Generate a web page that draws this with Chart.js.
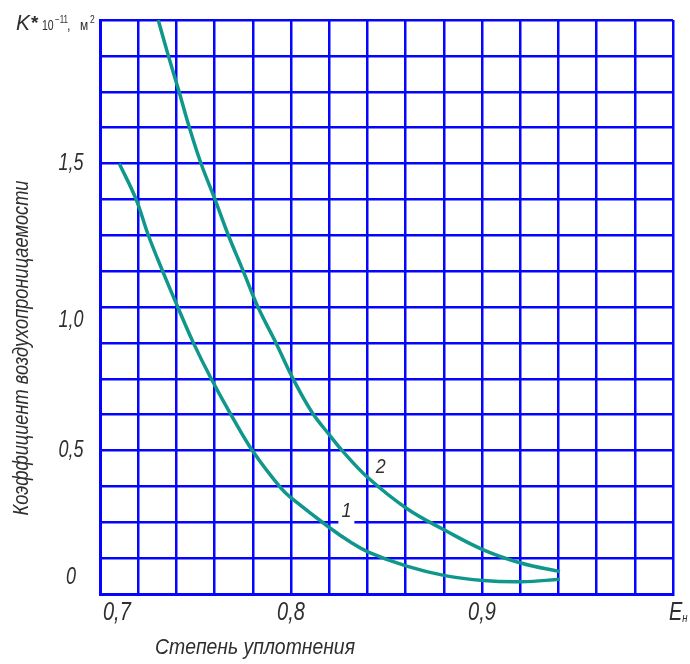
<!DOCTYPE html>
<html>
<head>
<meta charset="utf-8">
<script src="https://cdn.jsdelivr.net/npm/chart.js@4/dist/chart.umd.min.js"></script>
<style>
  html, body { margin: 0; padding: 0; background: #ffffff; }
  canvas { display: block; }
</style>
</head>
<body>
<canvas id="c" width="690" height="664"></canvas>
<script>
// ---- data ----
const curve1X = [0.7101, 0.7189, 0.7253, 0.7328, 0.7407, 0.7489, 0.7583, 0.7690, 0.7804, 0.7951, 0.8004, 0.8204, 0.8309, 0.8405, 0.8606, 0.8806, 0.9007, 0.9208, 0.9408];
const curve1Y = [1.50, 1.375, 1.25, 1.125, 1.00, 0.875, 0.749, 0.620, 0.494, 0.366, 0.333, 0.230, 0.182, 0.146, 0.097, 0.064, 0.047, 0.043, 0.051];

const curve2X = [0.7305, 0.7358, 0.7414, 0.7468, 0.7529, 0.7602, 0.7672, 0.7750, 0.7827, 0.7922, 0.8007, 0.8108, 0.8204, 0.8274, 0.8405, 0.8606, 0.8806, 0.9007, 0.9208, 0.9408];
const curve2Y = [2.00, 1.875, 1.75, 1.625, 1.50, 1.375, 1.25, 1.125, 1.00, 0.874, 0.755, 0.635, 0.552, 0.495, 0.404, 0.298, 0.222, 0.154, 0.107, 0.078];

const xTickValues = [0.7, 0.8, 0.9, 1.0];
const xTickLabels = ['0,7', '0,8', '0,9', 'E'];
const yTickValues = [0, 0.5, 1.0, 1.5];
const yTickLabels = ['0', '0,5', '1,0', '1,5'];

const curveLabels = ['1', '2'];
const curveLabelX = [0.829, 0.847];
const curveLabelY = [0.29, 0.442];

const xTitle = 'Степень уплотнения';
const yTitle = 'Коэффициент воздухопроницаемости';

// axis ranges / grid steps
const X_MIN = 0.7, X_MAX = 1.0, X_STEP = 0.02;
const Y_MIN = 0, Y_MAX = 2.0, Y_STEP = 0.125;

// label nudges (style, px) – mimic the drawing's hand placement
const yLabelNudge = [-17, 0, 13, 0];

const FONT = '"Liberation Sans", Arimo, "DejaVu Sans", sans-serif';
const TEXT = '#2e2e2e';
const GRID = '#0505ff';
const LINE = '#10978c';

function toPts(xs, ys) { return xs.map((x, i) => ({ x: x, y: ys[i] })); }
function gridTicks(min, max, step) {
  const n = Math.round((max - min) / step);
  const t = [];
  for (let i = 0; i <= n; i++) t.push({ value: +(min + i * step).toFixed(4) });
  return t;
}
// draw horizontally compressed text (narrow drafting look)
function txt(ctx, s, x, y, size, opts) {
  opts = opts || {};
  ctx.save();
  ctx.font = (opts.italic === false ? '' : 'italic ') + (opts.bold ? 'bold ' : '') + size + 'px ' + FONT;
  ctx.textAlign = opts.align || 'left';
  ctx.textBaseline = opts.baseline || 'alphabetic';
  let sx = opts.sx || 0.8;
  if (opts.fitWidth) sx = opts.fitWidth / ctx.measureText(s).width;
  ctx.translate(x, y);
  if (opts.rotate) ctx.rotate(opts.rotate);
  ctx.scale(sx, 1);
  ctx.fillStyle = opts.color || TEXT;
  ctx.fillText(s, 0, 0);
  const w = ctx.measureText(s).width * sx;
  ctx.restore();
  return w;
}

const textPlugin = {
  id: 'texts',
  afterDatasetsDraw(chart) {
    const ctx = chart.ctx;
    const xs = chart.scales.x, ys = chart.scales.y;
    curveLabels.forEach((t, i) => {
      const px = xs.getPixelForValue(curveLabelX[i]);
      const py = ys.getPixelForValue(curveLabelY[i]);
      if (i === 0) {
        ctx.save();
        ctx.fillStyle = '#ffffff';
        ctx.fillRect(px - 8, py + 6, 16, 10);
        ctx.restore();
      }
      txt(ctx, t, px, py, 21, { align: 'center', baseline: 'middle', sx: 0.85 });
    });
  },
  afterDraw(chart) {
    const ctx = chart.ctx;
    const xs = chart.scales.x, ys = chart.scales.y;
    const area = chart.chartArea;

    // x tick labels
    xTickValues.forEach((v, i) => {
      const px = xs.getPixelForValue(v);
      const py = area.bottom + 19;
      if (i === 0) {
        txt(ctx, xTickLabels[i], px + 3, py, 25, { baseline: 'middle', sx: 0.8 });
      } else if (i === xTickValues.length - 1) {
        const w = txt(ctx, xTickLabels[i], px - 4, py, 25, { baseline: 'middle', sx: 0.8 });
        txt(ctx, 'н', px - 4 + w, py + 6, 12, { baseline: 'middle', sx: 0.8 });
      } else {
        txt(ctx, xTickLabels[i], px, py, 25, { align: 'center', baseline: 'middle', sx: 0.8 });
      }
    });

    // y tick labels
    yTickValues.forEach((v, i) => {
      const py = ys.getPixelForValue(v) + yLabelNudge[i];
      txt(ctx, yTickLabels[i], area.left - 29, py, 24, { align: 'center', baseline: 'middle', sx: 0.75 });
    });

    // x title
    txt(ctx, xTitle, 255, area.bottom + 54, 22, { align: 'center', baseline: 'middle', fitWidth: 200 });

    // y title (rotated)
    txt(ctx, yTitle, 22, 348, 22, { align: 'center', baseline: 'middle', rotate: -Math.PI / 2, fitWidth: 335 });

    // unit label K*10^-11, м^2
    txt(ctx, 'K', 16, 30, 22, { sx: 0.95 });
    txt(ctx, '*', 31, 29, 19, { bold: true, italic: false, sx: 1 });
    txt(ctx, '10', 42, 30, 14, { italic: false, sx: 0.75 });
    txt(ctx, '−11', 55, 23, 10, { italic: false, sx: 0.8 });
    txt(ctx, ',', 67, 30, 14, { italic: false, sx: 0.9 });
    txt(ctx, 'м', 80, 30, 14, { italic: false, sx: 0.85 });
    txt(ctx, '2', 90, 23, 10, { italic: false, sx: 0.85 });
  }
};

new Chart(document.getElementById('c'), {
  type: 'line',
  data: {
    datasets: [
      { label: '1', data: toPts(curve1X, curve1Y), borderColor: LINE, borderWidth: 3.5, pointRadius: 0, fill: false, tension: 0.4 },
      { label: '2', data: toPts(curve2X, curve2Y), borderColor: LINE, borderWidth: 3.5, pointRadius: 0, fill: false, tension: 0.4 }
    ]
  },
  options: {
    responsive: false,
    animation: false,
    devicePixelRatio: 1,
    layout: { padding: { left: 100, right: 17, top: 20, bottom: 70 } },
    plugins: { legend: { display: false }, tooltip: { enabled: false }, title: { display: false } },
    scales: {
      x: {
        type: 'linear', min: X_MIN, max: X_MAX,
        afterBuildTicks: (s) => { s.ticks = gridTicks(X_MIN, X_MAX, X_STEP); },
        ticks: { display: false },
        grid: { color: GRID, lineWidth: 2.5, drawTicks: false },
        border: { display: true, color: GRID, width: 3 }
      },
      y: {
        type: 'linear', min: Y_MIN, max: Y_MAX,
        afterBuildTicks: (s) => { s.ticks = gridTicks(Y_MIN, Y_MAX, Y_STEP); },
        ticks: { display: false },
        grid: { color: GRID, lineWidth: 2.5, drawTicks: false },
        border: { display: true, color: GRID, width: 3 }
      }
    }
  },
  plugins: [textPlugin]
});
</script>
</body>
</html>
